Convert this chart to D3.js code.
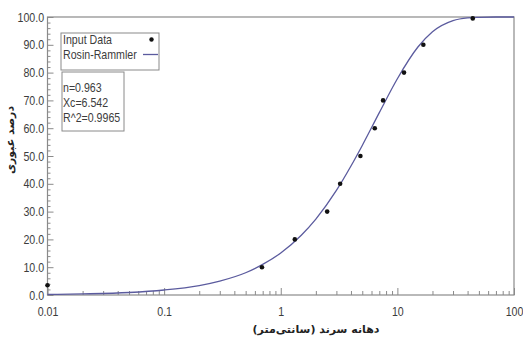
<!DOCTYPE html>
<html>
<head>
<meta charset="utf-8">
<script src="https://cdn.jsdelivr.net/npm/d3@7"></script>
<style>
  html, body { margin: 0; padding: 0; background: #fff; }
  svg { display: block; }
  .lbl { font-family: "Liberation Sans", Arial, sans-serif; }
</style>
</head>
<body>
<svg id="chart" width="523" height="341"></svg>
<script>
// Measured sieve data: opening size (cm) vs. cumulative passing (%)
const sizes   = [0.01, 0.69, 1.32, 2.5, 3.23, 4.82, 6.4, 7.54, 11.4, 16.7, 44.3];
const passing = [3.5, 10, 20, 30, 40, 50, 60, 70, 80, 90, 99.5];

// Rosin-Rammler fitted curve, sampled along the size axis
const fitSizes   = [0.01, 0.02, 0.05, 0.1, 0.2, 0.3, 0.5, 0.7, 1, 1.5, 2, 3, 4, 5, 7, 10, 15, 20, 30, 40, 50, 70, 100];
const fitPassing = [0.2, 0.4, 0.9, 1.8, 3.4, 5.0, 8.0, 11.0, 15.1, 21.5, 27.3, 37.6, 46.4, 53.8, 65.6, 77.8, 89.2, 94.7, 98.7, 99.7, 99.9, 100, 100];

const xTickValues = [0.01, 0.1, 1, 10, 100];
const xTickLabels = ["0.01", "0.1", "1", "10", "100"];
const yTickValues = [0, 10, 20, 30, 40, 50, 60, 70, 80, 90, 100];
const yTickLabels = ["0.0", "10.0", "20.0", "30.0", "40.0", "50.0", "60.0", "70.0", "80.0", "90.0", "100.0"];

const legendItems = ["Input Data", "Rosin-Rammler"];
const statLines = ["n=0.963", "Xc=6.542", "R^2=0.9965"];

const xTitle = "دهانه سرند (سانتی‌متر)";
const yTitle = "درصد عبوری";

const svg = d3.select("#chart");
const plotLeft = 47.5, plotRight = 514, plotTop = 17, plotBottom = 295;
const narrow = 0.85;   // horizontal squeeze for the condensed label face

const x = d3.scaleLog().domain([0.01, 100]).range([plotLeft, plotRight]);
const y = d3.scaleLinear().domain([0, 100]).range([plotBottom, plotTop]);

const axisColor = "#8a8a8a";
const textColor = "#3c3c3c";
const curveColor = "#5b5b9e";

// plot frame
svg.append("rect")
  .attr("x", plotLeft).attr("y", plotTop)
  .attr("width", plotRight - plotLeft).attr("height", plotBottom - plotTop)
  .attr("fill", "#fff").attr("stroke", axisColor).attr("stroke-width", 1.2);

// minor ticks
const yMinor = d3.range(0, 101, 2).filter(v => v % 10 !== 0);
svg.append("g").attr("transform", `translate(${plotLeft},0)`)
  .call(d3.axisLeft(y).tickValues(yMinor).tickSize(-3).tickFormat(""))
  .call(g => g.select(".domain").remove())
  .call(g => g.selectAll("line").attr("stroke", axisColor));

const xMinor = [];
[0.01, 0.1, 1, 10].forEach(d => { for (let k = 2; k <= 9; k++) xMinor.push(d * k); });
svg.append("g").attr("transform", `translate(0,${plotBottom})`)
  .call(d3.axisBottom(x).tickValues(xMinor).tickSize(-4).tickFormat(""))
  .call(g => g.select(".domain").remove())
  .call(g => g.selectAll("line").attr("stroke", axisColor));

// major axes
svg.append("g").attr("class", "lbl").attr("transform", `translate(${plotLeft},0)`)
  .call(d3.axisLeft(y).tickValues(yTickValues).tickSize(-6).tickPadding(4)
    .tickFormat((d, i) => yTickLabels[i]))
  .call(g => g.select(".domain").remove())
  .call(g => g.selectAll("line").attr("stroke", axisColor))
  .call(g => g.attr("font-family", null))
  .call(g => g.selectAll("text").attr("fill", textColor).style("font-size", "12.5px")
    .attr("transform", `scale(${narrow},1)`));

svg.append("g").attr("class", "lbl").attr("transform", `translate(0,${plotBottom})`)
  .call(d3.axisBottom(x).tickValues(xTickValues).tickSize(-7).tickPadding(12)
    .tickFormat((d, i) => xTickLabels[i]))
  .call(g => g.select(".domain").remove())
  .call(g => g.selectAll("line").attr("stroke", axisColor))
  .call(g => g.attr("font-family", null))
  .call(g => g.selectAll("text").attr("fill", textColor).style("font-size", "12.5px")
    .attr("transform", `scale(${narrow},1)`));

// fitted curve
const fit = fitSizes.map((s, i) => [s, fitPassing[i]]);
svg.append("path")
  .datum(fit)
  .attr("fill", "none")
  .attr("stroke", curveColor)
  .attr("stroke-width", 1.3)
  .attr("d", d3.line().x(d => x(d[0])).y(d => y(d[1])).curve(d3.curveMonotoneX));

// measured points
svg.append("g").selectAll("circle")
  .data(sizes.map((s, i) => [s, passing[i]]))
  .join("circle")
  .attr("cx", d => x(d[0])).attr("cy", d => y(d[1]))
  .attr("r", 2.3)
  .attr("fill", "#111");

// legend
const lg = svg.append("g").attr("class", "lbl");
lg.append("rect").attr("x", 61).attr("y", 33).attr("width", 98).attr("height", 37)
  .attr("fill", "#fff").attr("stroke", axisColor).attr("stroke-width", 1);
lg.selectAll("g.item").data(legendItems).join("g")
  .attr("class", "item")
  .attr("transform", (d, i) => `translate(63,${44 + i * 15}) scale(${narrow},1)`)
  .append("text")
  .attr("fill", textColor).style("font-size", "12.5px")
  .text(d => d);
lg.append("circle").attr("cx", 151.5).attr("cy", 39.5).attr("r", 2.2).attr("fill", "#111");
lg.append("line").attr("x1", 143).attr("x2", 158).attr("y1", 54.5).attr("y2", 54.5)
  .attr("stroke", curveColor).attr("stroke-width", 1.3);

// fit statistics
const st = svg.append("g").attr("class", "lbl");
st.append("rect").attr("x", 62).attr("y", 72).attr("width", 62).attr("height", 59)
  .attr("fill", "#fff").attr("stroke", axisColor).attr("stroke-width", 1);
st.selectAll("g.item").data(statLines).join("g")
  .attr("class", "item")
  .attr("transform", (d, i) => `translate(63,${92 + i * 15}) scale(${narrow},1)`)
  .append("text")
  .attr("fill", textColor).style("font-size", "12.5px")
  .text(d => d);

// axis titles
svg.append("text")
  .attr("x", 316).attr("y", 333)
  .attr("text-anchor", "middle")
  .attr("fill", "#222")
  .style("font-family", "'DejaVu Sans', 'Noto Sans', sans-serif")
  .style("font-size", "11px").style("font-weight", "bold")
  .attr("direction", "rtl")
  .text(xTitle);

svg.append("text")
  .attr("transform", "translate(14,140) rotate(-90)")
  .attr("text-anchor", "middle")
  .attr("fill", "#222")
  .style("font-family", "'DejaVu Sans', 'Noto Sans', sans-serif")
  .style("font-size", "11px").style("font-weight", "bold")
  .attr("direction", "rtl")
  .text(yTitle);
</script>
</body>
</html>
